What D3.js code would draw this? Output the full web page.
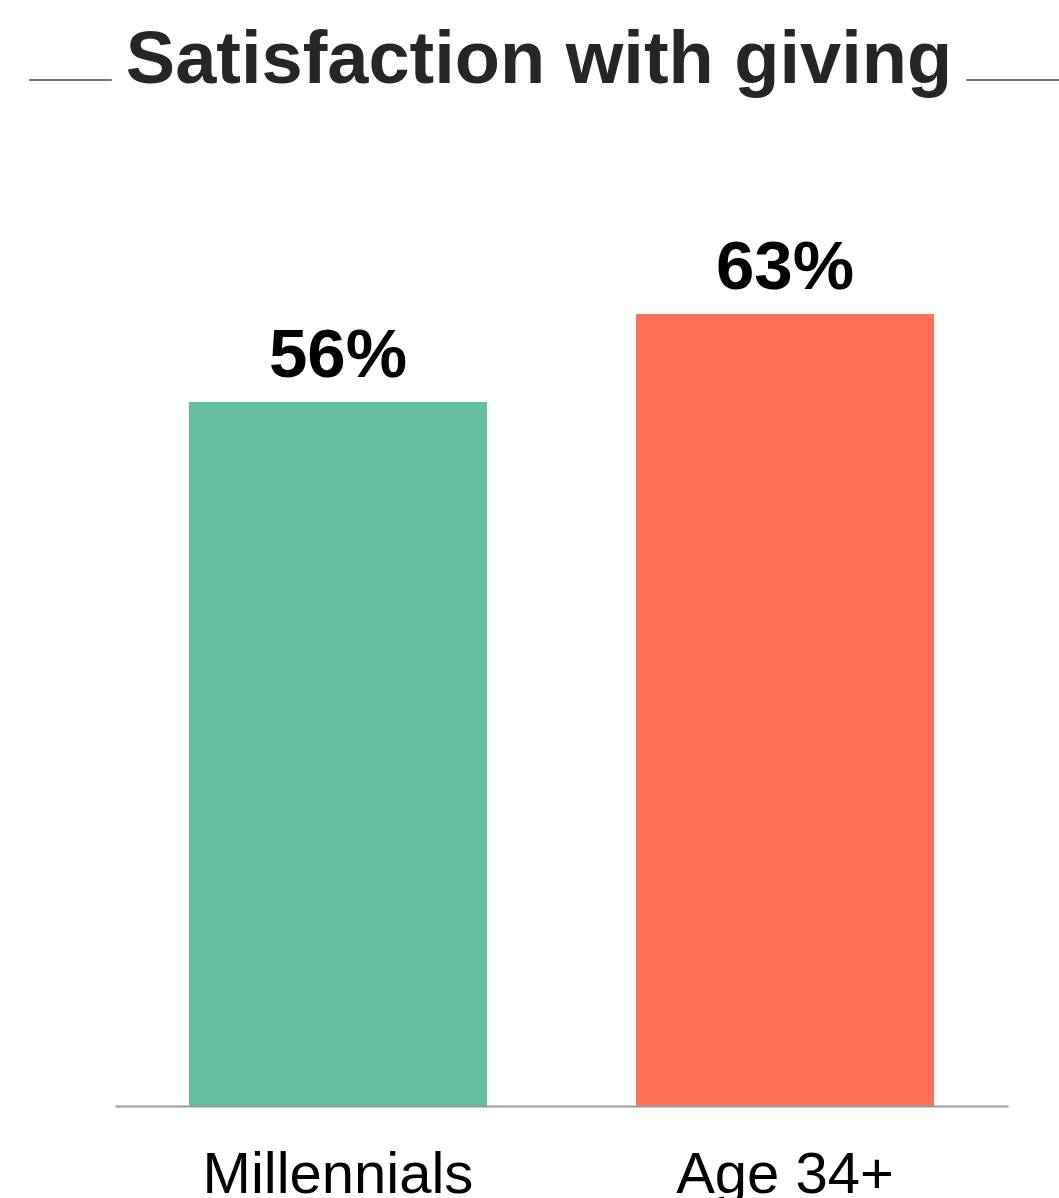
<!DOCTYPE html>
<html>
<head>
<meta charset="utf-8">
<script src="https://cdn.jsdelivr.net/npm/d3@7"></script>
<style>
  html, body { margin: 0; padding: 0; background: #fff; }
  svg { display: block; font-family: "Liberation Sans", Arial, Helvetica, sans-serif; }
</style>
</head>
<body>
<div id="chart"></div>
<script>
// Share of donors satisfied with their giving, by age group
const title = "Satisfaction with giving";
const categories = ["Millennials", "Age 34+"];
const values = [56, 63];
const labels = ["56%", "63%"];
const colors = ["#67bd9f", "#fe7259"];

const width = 1059, height = 1198;
const svg = d3.select("#chart").append("svg")
  .attr("width", width)
  .attr("height", height);

// Title with a rule on either side
const titleText = svg.append("text")
  .attr("x", 539)
  .attr("y", 83)
  .attr("text-anchor", "middle")
  .attr("font-size", 74)
  .attr("font-weight", "bold")
  .attr("fill", "#262626")
  .text(title);

const tb = titleText.node().getBBox();
svg.append("line")
  .attr("x1", 29).attr("x2", tb.x - 14)
  .attr("y1", 80).attr("y2", 80)
  .attr("stroke", "#777").attr("stroke-width", 2);
svg.append("line")
  .attr("x1", tb.x + tb.width + 14).attr("x2", width)
  .attr("y1", 80).attr("y2", 80)
  .attr("stroke", "#777").attr("stroke-width", 2);

// Scales
const x = d3.scaleBand()
  .domain(categories)
  .range([115, 1008])
  .paddingInner(0.3333)
  .paddingOuter(0.1655);

const baseY = 1106;
const y = d3.scaleLinear()
  .domain([0, 63])
  .range([baseY, 314]);

// Bars
svg.selectAll("rect.bar")
  .data(categories)
  .join("rect")
  .attr("class", "bar")
  .attr("x", d => x(d))
  .attr("width", x.bandwidth())
  .attr("y", (d, i) => y(values[i]))
  .attr("height", (d, i) => y(0) - y(values[i]))
  .attr("fill", (d, i) => colors[i]);

// Value labels
svg.selectAll("text.value")
  .data(categories)
  .join("text")
  .attr("class", "value")
  .attr("x", d => x(d) + x.bandwidth() / 2)
  .attr("y", (d, i) => y(values[i]) - 25)
  .attr("text-anchor", "middle")
  .attr("font-size", 69)
  .attr("font-weight", "bold")
  .attr("fill", "#000")
  .text((d, i) => labels[i]);

// Baseline axis
const axis = svg.append("g")
  .attr("transform", `translate(0,${baseY})`)
  .call(d3.axisBottom(x).tickSize(0).tickPadding(87));
axis.select(".domain").attr("stroke", "#999").attr("stroke-width", 2);
axis.selectAll(".tick text")
  .attr("font-size", 58)
  .attr("font-family", "\"Liberation Sans\", Arial, sans-serif")
  .attr("fill", "#000")
  .attr("dy", 0)
  .attr("y", 87);
</script>
</body>
</html>
